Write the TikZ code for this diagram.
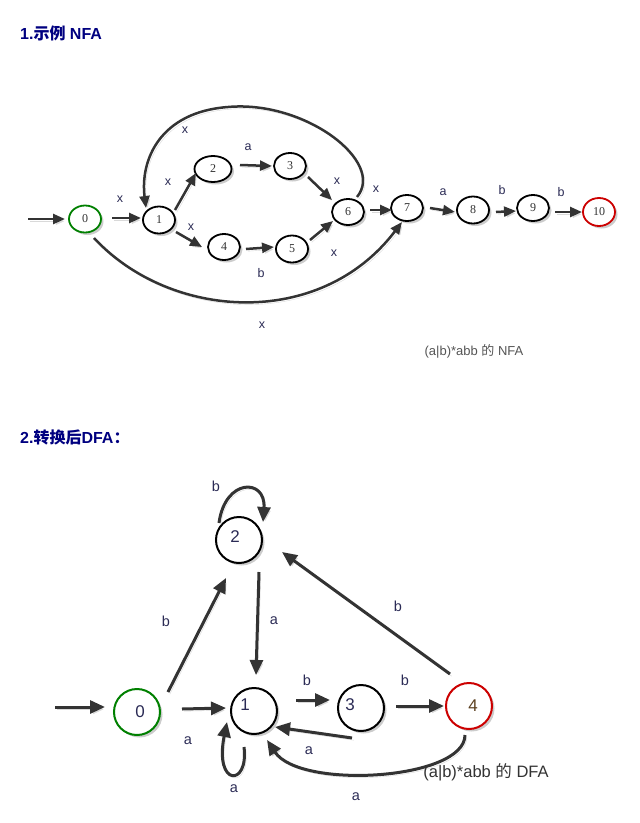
\documentclass[tikz,border=0pt]{standalone}
\usepackage{fontspec}
\setmainfont{Liberation Sans}
\newfontfamily\cjk{Noto Sans CJK SC}
\newfontfamily\serifnum{Liberation Serif}
\usetikzlibrary{arrows.meta,calc,shapes.geometric,shadows}
\definecolor{navyc}{RGB}{0,0,128}
\definecolor{edgec}{HTML}{333333}
\definecolor{labc}{HTML}{2B2B55}
\definecolor{fourc}{HTML}{5C4020}
\definecolor{startg}{HTML}{008000}
\definecolor{finalr}{HTML}{CC0000}
\definecolor{capc}{HTML}{555555}
\begin{document}
\begin{tikzpicture}[x=1pt,y=-1pt,
  shad/.style={drop shadow={shadow xshift=2.5pt,shadow yshift=-2.5pt,opacity=0.2,fill=black}},
  eshad/.style={preaction={draw=black!15, transform canvas={shift={(1.8pt,-2.2pt)}}}},
  nfastate/.style={ellipse, draw=black, line width=1.8pt, minimum width=32pt, minimum height=27pt,
    inner sep=0pt, fill=white, shad, font=\serifnum\fontsize{12}{12}\selectfont, text=edgec},
  dfastate/.style={circle, draw=black, line width=2pt, minimum size=46pt, inner sep=0pt,
    fill=white, shad},
  numtext/.style={font=\fontsize{17}{17}\selectfont, text=labc},
  nedge/.style={draw=edgec, line width=2.5pt, -{Triangle[length=12pt,width=10pt]}, eshad},
  dedge/.style={draw=edgec, line width=3pt, -{Triangle[length=15pt,width=13pt]}, eshad},
  nlab/.style={font=\fontsize{12.5}{12.5}\selectfont, text=labc, inner sep=0pt},
  dlab/.style={font=\fontsize{14.5}{14.5}\selectfont, text=labc, inner sep=0pt},
  heading/.style={anchor=west, text=navyc, font=\bfseries\fontsize{16}{18}\selectfont, inner sep=0pt}
]
\useasboundingbox (0,0) rectangle (640,823);
\fill[white] (0,0) rectangle (640,823);

% headings
\node[heading] (h1) at (20,33) {1.{\cjk 示例} NFA};
\node[heading] (h2) at (20,437) {2.{\cjk 转换后}DFA{\cjk ：}};

% ---------------- NFA ----------------
\node[nfastate, draw=startg] (a0) at (85,219) {0};
\node[nfastate] (a1) at (159,220) {1};
\node[nfastate, minimum width=37pt, minimum height=26pt] (a2) at (213,169) {2};
\node[nfastate, minimum height=26pt] (a3) at (290,166) {3};
\node[nfastate, minimum height=26pt] (a4) at (224,247) {4};
\node[nfastate] (a5) at (292,249) {5};
\node[nfastate, minimum height=26pt] (a6) at (348,212) {6};
\node[nfastate, minimum height=26pt] (a7) at (407,208) {7};
\node[nfastate] (a8) at (473,210) {8};
\node[nfastate, minimum height=26pt] (a9) at (533,208) {9};
\node[nfastate, draw=finalr, minimum height=28pt] (a10) at (599,212) {10};

\coordinate (as) at (28,219);
\draw[nedge] (as) -- ($(a0)+(-20,0)$);
\draw[nedge] ($(a0)+(27,-1)$) -- ($(a1)+(-18,-2)$);
\draw[nedge] ($(a1)+(16,-10)$) -- ($(a2)+(-17,4)$);
\draw[nedge] ($(a2)+(27,-4)$) -- ($(a3)+(-18,0)$);
\draw[nedge] ($(a3)+(18,11)$) -- ($(a6)+(-16,-12)$);
\draw[nedge] ($(a1)+(17,12)$) -- ($(a4)+(-22,0)$);
\draw[nedge] ($(a4)+(22,2)$) -- ($(a5)+(-18,-2)$);
\draw[nedge] ($(a5)+(18,-9)$) -- ($(a6)+(-15,9)$);
\draw[nedge] ($(a6)+(22,-2)$) -- ($(a7)+(-15,2)$);
\draw[nedge] ($(a7)+(23,0)$) -- ($(a8)+(-18,2)$);
\draw[nedge] ($(a8)+(23,2)$) -- ($(a9)+(-17,3)$);
\draw[nedge] ($(a9)+(22,4)$) -- ($(a10)+(-17,0)$);
\coordinate (looptop) at (228,107);
\draw[nedge] ($(a6)+(9,-15)$) .. controls (386,162) and (305,100) .. (looptop)
  .. controls (160,112) and (140,160) .. ($(a1)+(-13,-12)$);
\draw[nedge] ($(a0)+(9,19)$) .. controls (170,320) and (320,330) .. ($(a7)+(-5,14)$);

\node[nlab] (n01) at (120,199) {x};
\node[nlab] (n12) at (168,182) {x};
\node[nlab] (n23) at (248,147) {a};
\node[nlab] (n36) at (337,181) {x};
\node[nlab] (n14) at (191,227) {x};
\node[nlab] (n56) at (334,253) {x};
\node[nlab] (n67) at (376,189) {x};
\node[nlab] (n78) at (443,192) {a};
\node[nlab] (n89) at (502,190) {b};
\node[nlab] (n910) at (561,192) {b};
\node[nlab] (n61) at (185,130) {x};
\node[nlab] (n07b) at (261,273) {b};
\node[nlab] (n07x) at (262,325) {x};

\node[font=\fontsize{13}{13}\selectfont, text=capc, inner sep=0pt] (capn) at (474,351) {(a|b)*abb {\cjk 的} NFA};

% ---------------- DFA ----------------
\node[dfastate, draw=startg, label={[numtext,xshift=3pt]center:0}] (b0) at (137,712) {};
\node[dfastate, label={[numtext,xshift=-9pt,yshift=6pt]center:1}] (b1) at (254,711) {};
\node[dfastate, label={[numtext,xshift=-4pt,yshift=3pt]center:2}] (b2) at (239,540) {};
\node[dfastate, label={[numtext,xshift=-11pt,yshift=3pt]center:3}] (b3) at (361,708) {};
\node[dfastate, draw=finalr, label={[numtext,text=fourc,xshift=4pt]center:4}] (b4) at (469,706) {};

\coordinate (bs) at (55,707);
\draw[dedge] (bs) -- ($(b0)+(-32,-5)$);
\draw[dedge] ($(b0)+(45,-3)$) -- ($(b1)+(-28,-3)$);
\draw[dedge] ($(b0)+(31,-20)$) -- ($(b2)+(-13,38)$);
\draw[dedge] ($(b2)+(20,32)$) -- ($(b1)+(2,-36)$);
\draw[dedge] ($(b1)+(42,-11)$) -- ($(b3)+(-31,-8)$);
\draw[dedge] ($(b3)+(-9,30)$) -- ($(b1)+(21,16)$);
\draw[dedge] ($(b3)+(35,-2)$) -- ($(b4)+(-25,0)$);
\draw[dedge] ($(b4)+(-19,-32)$) -- ($(b2)+(43,12)$);
\draw[dedge] ($(b4)+(-4,29)$) .. controls (465,780) and (300,790) .. ($(b1)+(13,29)$);
\draw[dedge] ($(b2)+(-20,-17)$) .. controls (225,478) and (266,478) .. ($(b2)+(24,-18)$);
\draw[dedge] ($(b1)+(-10,36)$) .. controls (249,787) and (214,787) .. ($(b1)+(-27,11)$);

\node[dlab] (m22) at (216,486) {b};
\node[dlab] (m02) at (166,621) {b};
\node[dlab] (m21) at (274,621) {a};
\node[dlab] (m01) at (188,741) {a};
\node[dlab] (m11) at (234,789) {a};
\node[dlab] (m13) at (307,680) {b};
\node[dlab] (m31) at (309,751) {a};
\node[dlab] (m34) at (405,680) {b};
\node[dlab] (m42) at (398,606) {b};
\node[dlab] (m41) at (356,797) {a};

\node[font=\fontsize{16.5}{16.5}\selectfont, text=edgec, inner sep=0pt] (capd) at (486,772) {(a|b)*abb {\cjk 的} DFA};
\end{tikzpicture}
\end{document}
